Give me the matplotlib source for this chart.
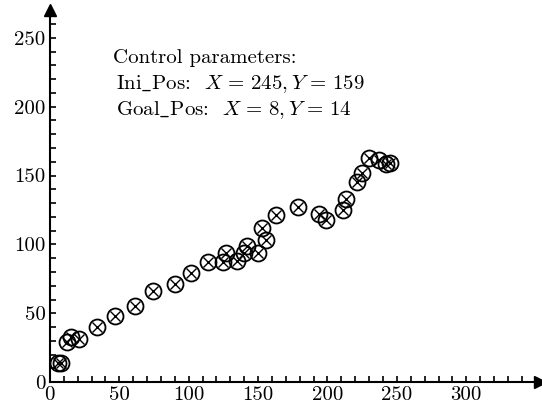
import matplotlib
matplotlib.use("Agg")
import matplotlib.pyplot as plt

plt.rcParams['font.family'] = 'serif'
plt.rcParams['font.serif'] = ['cmr10', 'DejaVu Serif']
plt.rcParams['mathtext.fontset'] = 'cm'
plt.rcParams['axes.formatter.use_mathtext'] = True

x_vals = [6, 8, 12, 15, 21, 34, 47, 61, 74, 90, 102, 114, 125, 127, 135, 140, 142,
          150, 153, 156, 163, 179, 194, 199, 211, 213, 221, 225, 230, 237, 242, 245]
y_vals = [14, 14, 29, 33, 31, 40, 48, 55, 66, 71, 79, 87, 87, 94, 88, 94, 99,
          94, 112, 103, 121, 127, 122, 118, 125, 133, 145, 152, 163, 161, 158, 159]

x_ticks = [0, 50, 100, 150, 200, 250, 300]
y_ticks = [0, 50, 100, 150, 200, 250]
text_lines = ["Control parameters:",
              r"$\mathrm{Ini\_Pos}$:  $X\hspace{0.15}=\hspace{0.15}245, Y\hspace{0.15}=\hspace{0.15}159$",
              r"$\mathrm{Goal\_Pos}$:  $X\hspace{0.15}=\hspace{0.15}8, Y\hspace{0.15}=\hspace{0.15}14$"]

fig = plt.figure(figsize=(5.42, 4.07), dpi=100)
ax = fig.add_axes([0.092, 0.061, 0.904, 0.914])
ax.set_xlim(0, 353)
ax.set_ylim(0, 270)

ax.plot(x_vals, y_vals, linestyle='none', marker='o', markersize=11.5,
        markerfacecolor='none', markeredgecolor='black', markeredgewidth=1.3)
ax.plot(x_vals, y_vals, linestyle='none', marker='x', markersize=7.5,
        markeredgecolor='black', markeredgewidth=1.0)

for s in ['top', 'right']:
    ax.spines[s].set_visible(False)
for s in ['left', 'bottom']:
    ax.spines[s].set_linewidth(1.5)

ax.set_xticks(list(range(0, 350, 10)), minor=True)
ax.set_yticks(list(range(0, 270, 10)), minor=True)
ax.set_xticks(x_ticks)
ax.set_yticks(y_ticks)
ax.set_xticklabels([str(v) for v in x_ticks])
ax.set_yticklabels([str(v) for v in y_ticks])
ax.tick_params(which='both', direction='in', length=4.5, width=1.2, labelsize=15)
ax.tick_params(axis='x', pad=3)
ax.tick_params(axis='y', pad=3)

ax.plot(1, 0, marker='>', color='black', markersize=8, transform=ax.transAxes, clip_on=False)
ax.plot(0, 1, marker='^', color='black', markersize=8, transform=ax.transAxes, clip_on=False)

fig.text(113 / 542, 1 - 58 / 407, text_lines[0], fontsize=15, va='center', ha='left')
fig.text(116 / 542, 1 - 84 / 407, text_lines[1], fontsize=15, va='center', ha='left')
fig.text(116 / 542, 1 - 110 / 407, text_lines[2], fontsize=15, va='center', ha='left')

fig.savefig("out.png", dpi=100)
